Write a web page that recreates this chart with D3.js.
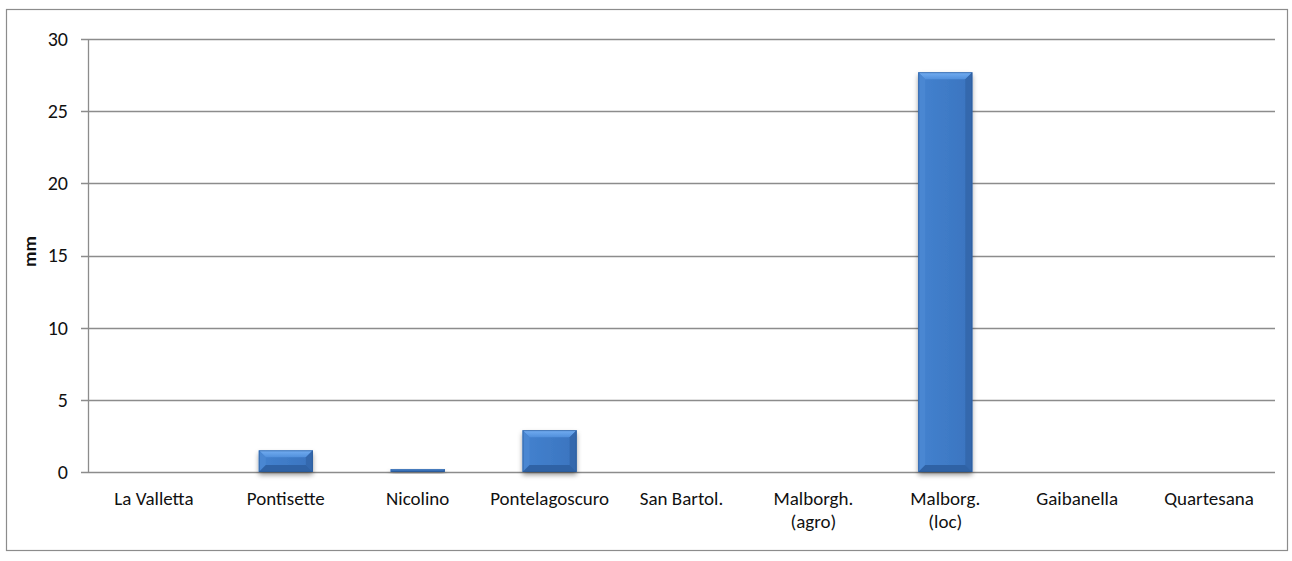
<!DOCTYPE html>
<html>
<head>
<meta charset="utf-8">
<script src="https://cdn.jsdelivr.net/npm/d3@7"></script>
<style>
  html, body { margin: 0; padding: 0; background: #fff; }
  svg { display: block; }
  text { font-family: Carlito, Lato, "Open Sans", sans-serif; fill: #111; }
</style>
</head>
<body>
<svg id="chart" width="1292" height="561"></svg>
<script>
// Rainfall per station (mm)
const stations = ["La Valletta", "Pontisette", "Nicolino", "Pontelagoscuro", "San Bartol.",
                  "Malborgh.\n(agro)", "Malborg.\n(loc)", "Gaibanella", "Quartesana"];
const rainfall = [0, 1.5, 0.2, 2.9, 0, 0, 27.7, 0, 0];
const yTicks = [0, 5, 10, 15, 20, 25, 30];
const yLabel = "mm";

const svg = d3.select("#chart");
const plot = { left: 88, right: 1275, top: 39, bottom: 472 };

// outer chart frame
svg.append("rect")
  .attr("x", 6.5).attr("y", 9.5).attr("width", 1281).attr("height", 541)
  .attr("fill", "#fff").attr("stroke", "#8c8c8c").attr("stroke-width", 1.2);

const x = d3.scaleBand()
  .domain(stations)
  .range([plot.left, plot.right])
  .paddingInner(0.59)
  .paddingOuter(0.295);

const y = d3.scaleLinear().domain([0, 30]).range([plot.bottom, plot.top]);

const defs = svg.append("defs");
const shadow = defs.append("filter").attr("id", "barShadow")
  .attr("x", "-20%").attr("y", "-20%").attr("width", "140%").attr("height", "160%");
shadow.append("feDropShadow").attr("dx", 0).attr("dy", 3).attr("stdDeviation", 2.5)
  .attr("flood-color", "#000").attr("flood-opacity", 0.4);

const topGrad = defs.append("linearGradient").attr("id", "bevelTop")
  .attr("x1", 0).attr("y1", 0).attr("x2", 0).attr("y2", 1);
topGrad.append("stop").attr("offset", 0).attr("stop-color", "#74aef2");
topGrad.append("stop").attr("offset", 1).attr("stop-color", "#5190dc");

const bodyGrad = defs.append("linearGradient").attr("id", "bevelBody")
  .attr("x1", 0).attr("y1", 0).attr("x2", 1).attr("y2", 0);
bodyGrad.append("stop").attr("offset", 0).attr("stop-color", "#4482cf");
bodyGrad.append("stop").attr("offset", 1).attr("stop-color", "#3a74bf");

// horizontal gridlines with left tick marks
const yAxis = d3.axisLeft(y).tickValues(yTicks).tickSize(0).tickPadding(0);
const gridG = svg.append("g");
gridG.selectAll("line.grid").data(yTicks).join("line")
  .attr("class", "grid")
  .attr("x1", plot.left - 7).attr("x2", plot.right)
  .attr("y1", d => Math.round(y(d)) + 0.5).attr("y2", d => Math.round(y(d)) + 0.5)
  .attr("stroke", "#8c8c8c").attr("stroke-width", 1.3);

gridG.append("line")
  .attr("x1", plot.left + 0.5).attr("x2", plot.left + 0.5)
  .attr("y1", y(30)).attr("y2", y(0))
  .attr("stroke", "#8c8c8c").attr("stroke-width", 1.3);

const yAxisG = svg.append("g").attr("transform", `translate(${plot.left - 20},0)`).call(yAxis);
yAxisG.select(".domain").remove();
yAxisG.selectAll("text")
  .style("font-size", "20px")
  .attr("fill", "#111");

svg.append("text")
  .attr("transform", `translate(29,${(plot.top + plot.bottom) / 2 - 4}) rotate(-90)`)
  .attr("text-anchor", "middle").attr("dy", "0.35em")
  .style("font-size", "19px").style("font-weight", "bold")
  .text(yLabel);

// bevelled bars
const bars = svg.append("g").selectAll("g.bar")
  .data(stations.map((s, i) => ({ s, v: rainfall[i] })).filter(d => d.v > 0))
  .join("g").attr("class", "bar");

bars.each(function (d) {
  const g = d3.select(this);
  const x0 = x(d.s), w = x.bandwidth();
  const y0 = y(d.v), h = y(0) - y(d.v);
  const b = Math.min(7, h / 2, w / 2);
  const p = pts => pts.map(q => q.join(",")).join(" ");
  g.append("rect").attr("x", x0).attr("y", y0).attr("width", w).attr("height", h)
    .attr("fill", "url(#bevelBody)").attr("filter", "url(#barShadow)");
  g.append("polygon").attr("points", p([[x0, y0], [x0 + w, y0], [x0 + w - b, y0 + b], [x0 + b, y0 + b]]))
    .attr("fill", "url(#bevelTop)");
  g.append("polygon").attr("points", p([[x0, y0], [x0 + b, y0 + b], [x0 + b, y0 + h - b], [x0, y0 + h]]))
    .attr("fill", "#4a87d2");
  g.append("polygon").attr("points", p([[x0 + w, y0], [x0 + w - b, y0 + b], [x0 + w - b, y0 + h - b], [x0 + w, y0 + h]]))
    .attr("fill", "#3468ad");
  g.append("polygon").attr("points", p([[x0, y0 + h], [x0 + b, y0 + h - b], [x0 + w - b, y0 + h - b], [x0 + w, y0 + h]]))
    .attr("fill", "#2f62a5");
  g.append("rect").attr("x", x0 + 0.5).attr("y", y0 + 0.5).attr("width", w - 1).attr("height", Math.max(0, h - 1))
    .attr("fill", "none").attr("stroke", "#2a5894").attr("stroke-opacity", 0.6).attr("stroke-width", 1);
});

// category labels, one text element per line
const xAxis = d3.axisBottom(x).tickSize(0).tickFormat(() => "");
svg.append("g").attr("transform", `translate(0,${plot.bottom})`).call(xAxis)
  .select(".domain").remove();

const labelLines = stations.flatMap(s => s.split("\n").map((line, i) => ({ s, line, i })));
svg.append("g").selectAll("text").data(labelLines).join("text")
  .attr("x", d => x(d.s) + x.bandwidth() / 2)
  .attr("y", d => 505 + d.i * 23)
  .attr("text-anchor", "middle")
  .style("font-size", "19px")
  .text(d => d.line);
</script>
</body>
</html>
